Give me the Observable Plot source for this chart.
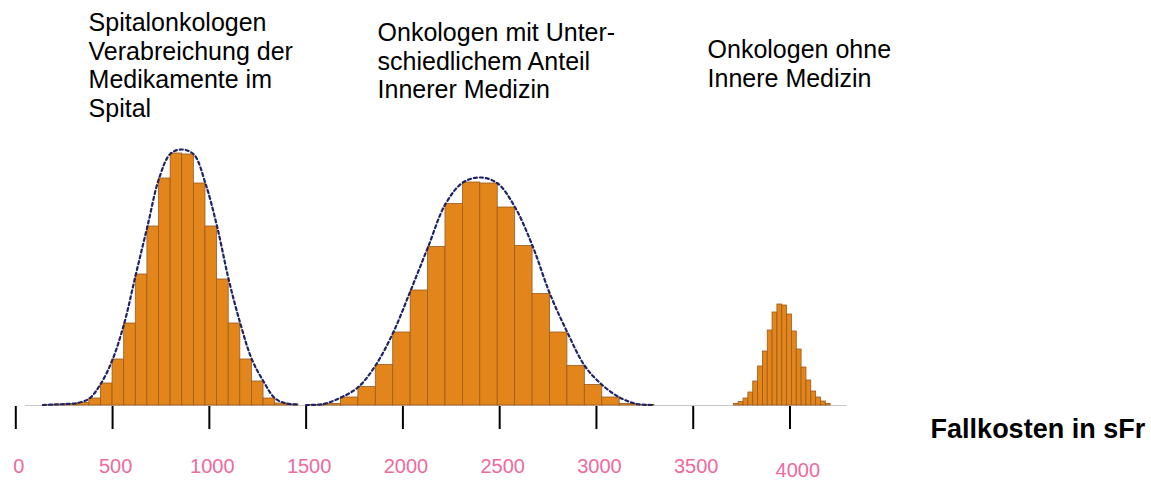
<!DOCTYPE html>
<html>
<head>
<meta charset="utf-8">
<script src="https://cdn.jsdelivr.net/npm/d3@7"></script>
<script src="https://cdn.jsdelivr.net/npm/@observablehq/plot@0.6"></script>
<style>
  html, body { margin: 0; padding: 0; background: #fff; }
  #chart svg { font-family: "Liberation Sans", Arial, sans-serif; display: block; }
</style>
</head>
<body>
<div id="chart"></div>
<script>
// ---- Data ----
// Group 1: Spitalonkologen (bins of 60 sFr starting at 140)
const spitalStart = 140;
const spitalBinWidth = 60;
const spitalCounts = [0.5, 1, 1.5, 2.5, 7, 22, 46, 82, 131, 179, 227, 252, 251, 222, 179, 126, 82, 46, 24, 7, 2, 1];
const spitalPeak = { x: 860, y: 256 };

// Group 2: Onkologen mit unterschiedlichem Anteil Innerer Medizin (bins of 90 sFr starting at 1500)
const mixedStart = 1500;
const mixedBinWidth = 90;
const mixedCounts = [0.5, 1.5, 8, 18.5, 40.5, 73, 115, 158.5, 201.5, 223, 222, 198, 159.5, 111.5, 73, 39.5, 20.5, 8, 1.5, 0.5];
const mixedPeak = { x: 2400, y: 228 };

// Group 3: Onkologen ohne Innere Medizin (bins of 25 sFr starting at 3710)
const ohneStart = 3710;
const ohneBinWidth = 25;
const ohneCounts = [1.5, 3.5, 7, 13, 24, 39, 54, 75, 93, 101, 100, 91, 74, 56, 38, 25, 14, 8, 4, 1.5];

// Axis
const tickValues = [0, 500, 1000, 1500, 2000, 2500, 3000, 3500, 4000];
const tickLabels = ["0", "500", "1000", "1500", "2000", "2500", "3000", "3500", "4000"];
const axisTitle = "Fallkosten in sFr";

// Annotation texts
const annotationTexts = [
  "Spitalonkologen\nVerabreichung der\nMedikamente im\nSpital",
  "Onkologen mit Unter-\nschiedlichem Anteil\nInnerer Medizin",
  "Onkologen ohne\nInnere Medizin"
];

// ---- Build tables ----
function binsOf(start, width, counts, group) {
  return counts.map((c, i) => ({ group, x1: start + i * width, x2: start + (i + 1) * width, count: c }));
}
const bins = [
  ...binsOf(spitalStart, spitalBinWidth, spitalCounts, "spital"),
  ...binsOf(mixedStart, mixedBinWidth, mixedCounts, "mixed"),
  ...binsOf(ohneStart, ohneBinWidth, ohneCounts, "ohne")
];

// Dashed curve through the outer top corners of the bars
function curveOf(start, width, counts, peak, group) {
  const pts = counts.map((c, i) => {
    const x0 = start + i * width, x1 = x0 + width;
    const mid = (x0 + x1) / 2;
    return { group, x: mid < peak.x ? x0 : x1, y: c };
  });
  pts.push({ group, x: peak.x, y: peak.y });
  pts.sort((a, b) => a.x - b.x);
  return pts;
}
const curves = [
  ...curveOf(spitalStart, spitalBinWidth, spitalCounts, spitalPeak, "spital"),
  ...curveOf(mixedStart, mixedBinWidth, mixedCounts, mixedPeak, "mixed")
];

// Annotation layout (positions in data units)
const annotationPos = [
  { x: 376, y: 395 },
  { x: 1869, y: 385 },
  { x: 3574, y: 368 }
];
const annotations = annotationTexts.map((t, i) => ({ text: t, ...annotationPos[i] }));

const ticks = tickValues.map((v, i) => ({ v, label: tickLabels[i] }));

const chart = Plot.plot({
  width: 1151,
  height: 481,
  x: { domain: [0, 4000], range: [15.3, 789.5], axis: null },
  y: { domain: [0, 405], range: [405, 0], axis: null },
  marks: [
    Plot.ruleY([0], { x1: 50, x2: 4295, stroke: "#c8c8c8", strokeWidth: 1 }),
    Plot.rectY(bins, { x1: "x1", x2: "x2", y1: 0, y2: "count", fill: "#e2861c", stroke: "#9c5a1c", strokeWidth: 0.8 }),
    Plot.line(curves, { x: "x", y: "y", z: "group", curve: "catmull-rom", stroke: "#1e2466", strokeWidth: 2.2, strokeDasharray: "3,3" }),
    Plot.ruleX(ticks, { x: "v", y1: -1, y2: -24, stroke: "#000", strokeWidth: 2 }),
    Plot.text(ticks, { x: d => (d.v === 4000 ? d.v + 25 : d.v), y: d => (d.v === 4000 ? -65 : -61), dx: 3, text: "label", fill: "#ee6a9e", fontSize: 20 }),
    Plot.text([axisTitle], { x: 5835, y: -24, text: d => d, textAnchor: "end", fontSize: 27, fontWeight: "bold", fill: "#000" }),
    Plot.text(annotations, { x: "x", y: "y", text: "text", textAnchor: "start", lineAnchor: "top", lineHeight: 1.15, fontSize: 25, fill: "#000" })
  ]
});
document.getElementById("chart").appendChild(chart);
</script>
</body>
</html>
